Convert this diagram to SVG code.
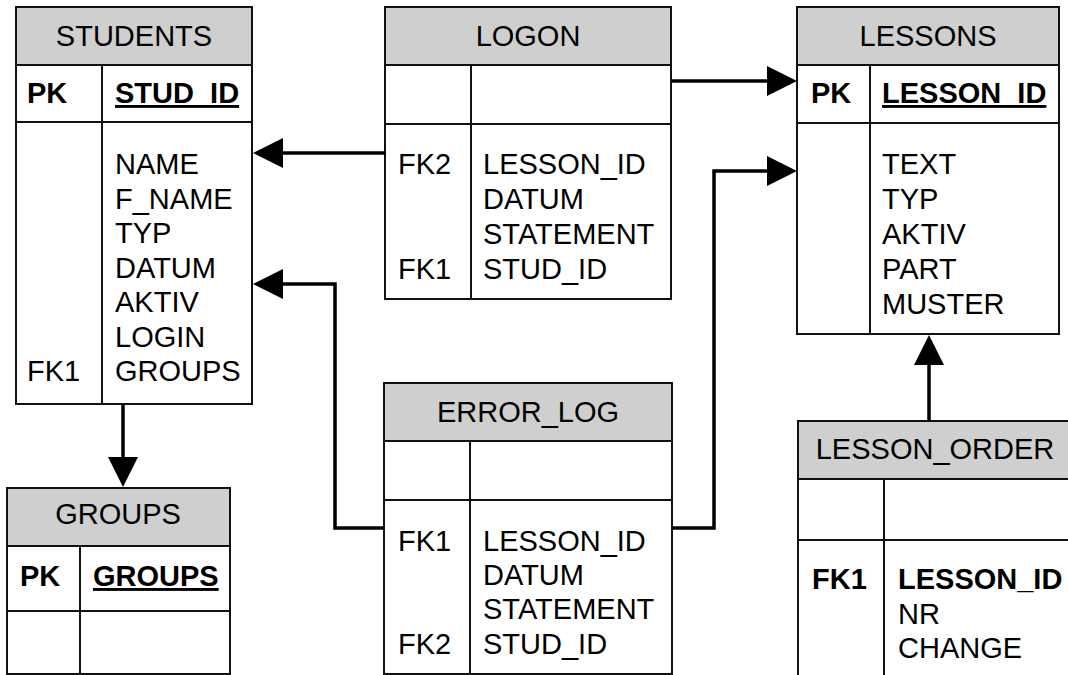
<svg xmlns="http://www.w3.org/2000/svg" width="1068" height="675" viewBox="0 0 1068 675">
<style>
.box{fill:#ffffff;stroke:#111;stroke-width:2}
.hdr{fill:#cfcfcf;stroke:#111;stroke-width:2}
.ln{stroke:#111;stroke-width:2;fill:none}
text{font-family:"Liberation Sans",Arial,sans-serif;font-size:29px;fill:#000}
.c{text-anchor:middle}
.b{font-weight:bold}
.u{text-decoration:underline}
.con{stroke:#000;stroke-width:3.5;fill:none}
</style>
<defs>
<marker id="ah" markerUnits="userSpaceOnUse" markerWidth="30" markerHeight="30" refX="25" refY="15" orient="auto">
<path d="M0,0 L30,15 L0,30 Z" fill="#000"/>
</marker>
</defs>
<rect x="0" y="0" width="1068" height="675" fill="#fff"/>

<g id="students">
<rect class="box" x="16" y="7" width="236" height="397"/>
<rect class="hdr" x="16" y="7" width="236" height="58"/>
<line class="ln" x1="16" y1="122" x2="252" y2="122"/>
<line class="ln" x1="102" y1="65" x2="102" y2="404"/>
<text class="c" x="134" y="46">STUDENTS</text>
<text class="b" x="27" y="103">PK</text>
<text class="b u" x="115" y="103">STUD_ID</text>
<text x="115" y="174">NAME</text>
<text x="115" y="209">F_NAME</text>
<text x="115" y="243">TYP</text>
<text x="115" y="278">DATUM</text>
<text x="115" y="312">AKTIV</text>
<text x="115" y="347">LOGIN</text>
<text x="27" y="381">FK1</text>
<text x="115" y="381">GROUPS</text>
</g>

<g id="logon">
<rect class="box" x="385" y="7" width="286" height="292"/>
<rect class="hdr" x="385" y="7" width="286" height="58"/>
<line class="ln" x1="385" y1="124" x2="671" y2="124"/>
<line class="ln" x1="471" y1="65" x2="471" y2="299"/>
<text class="c" x="528" y="46">LOGON</text>
<text x="398" y="174">FK2</text>
<text x="483" y="174">LESSON_ID</text>
<text x="483" y="209">DATUM</text>
<text x="483" y="244">STATEMENT</text>
<text x="398" y="279">FK1</text>
<text x="483" y="279">STUD_ID</text>
</g>

<g id="lessons">
<rect class="box" x="797" y="7" width="262" height="327"/>
<rect class="hdr" x="797" y="7" width="262" height="58"/>
<line class="ln" x1="797" y1="123" x2="1059" y2="123"/>
<line class="ln" x1="870" y1="65" x2="870" y2="334"/>
<text class="c" x="928" y="46">LESSONS</text>
<text class="b" x="811" y="103">PK</text>
<text class="b u" x="882" y="103">LESSON_ID</text>
<text x="882" y="174">TEXT</text>
<text x="882" y="209">TYP</text>
<text x="882" y="244">AKTIV</text>
<text x="882" y="279">PART</text>
<text x="882" y="314">MUSTER</text>
</g>

<g id="groups">
<rect class="box" x="7" y="488" width="223" height="186"/>
<rect class="hdr" x="7" y="488" width="223" height="58"/>
<line class="ln" x1="7" y1="611" x2="230" y2="611"/>
<line class="ln" x1="80" y1="546" x2="80" y2="674"/>
<text class="c" x="118" y="524">GROUPS</text>
<text class="b" x="20" y="586">PK</text>
<text class="b u" x="93" y="586">GROUPS</text>
</g>

<g id="error_log">
<rect class="box" x="384" y="383" width="288" height="291"/>
<rect class="hdr" x="384" y="383" width="288" height="58"/>
<line class="ln" x1="384" y1="500" x2="672" y2="500"/>
<line class="ln" x1="470" y1="441" x2="470" y2="674"/>
<text class="c" x="528" y="422">ERROR_LOG</text>
<text x="398" y="551">FK1</text>
<text x="483" y="551">LESSON_ID</text>
<text x="483" y="585">DATUM</text>
<text x="483" y="619">STATEMENT</text>
<text x="398" y="654">FK2</text>
<text x="483" y="654">STUD_ID</text>
</g>

<g id="lesson_order">
<rect class="box" x="798" y="421" width="276" height="270"/>
<rect class="hdr" x="798" y="421" width="276" height="58"/>
<line class="ln" x1="798" y1="540" x2="1074" y2="540"/>
<line class="ln" x1="884" y1="479" x2="884" y2="691"/>
<text class="c" x="935" y="459">LESSON_ORDER</text>
<text class="b" x="812" y="589">FK1</text>
<text class="b" x="898" y="589">LESSON_ID</text>
<text x="898" y="624">NR</text>
<text x="898" y="658">CHANGE</text>
</g>

<g id="connectors">
<path class="con" d="M385,153 H258" marker-end="url(#ah)"/>
<path class="con" d="M672,81 H792" marker-end="url(#ah)"/>
<path class="con" d="M384,528 H335 V284 H258" marker-end="url(#ah)"/>
<path class="con" d="M672,528 H714 V171 H792" marker-end="url(#ah)"/>
<path class="con" d="M123,404 V482" marker-end="url(#ah)"/>
<path class="con" d="M929,421 V340" marker-end="url(#ah)"/>
</g>
</svg>
